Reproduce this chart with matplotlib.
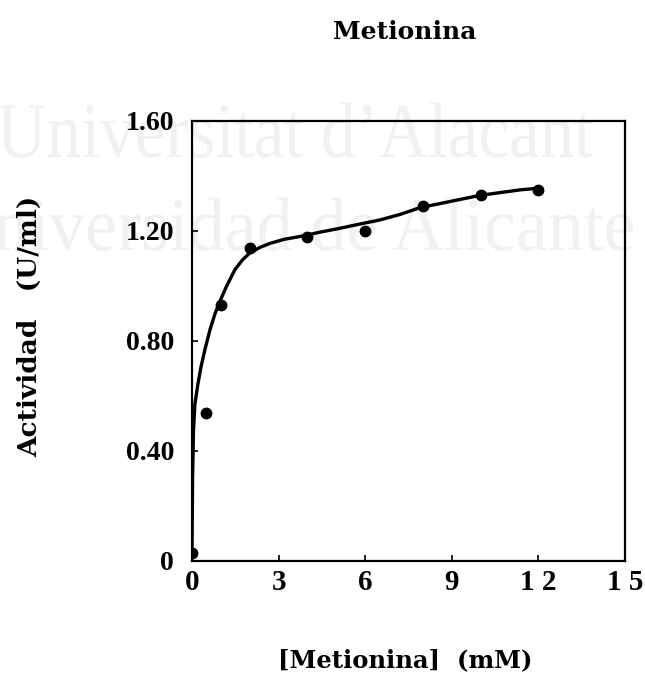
import matplotlib.pyplot as plt
from matplotlib.textpath import TextPath
from matplotlib.patches import PathPatch
from matplotlib.font_manager import FontProperties
from matplotlib.transforms import Affine2D, IdentityTransform

# measured activity vs methionine concentration
conc_mM = [0, 0.5, 1, 2, 4, 6, 8, 10, 12]
activity = [0.03, 0.54, 0.93, 1.14, 1.18, 1.20, 1.29, 1.33, 1.35]

# hand-drawn fit line
curve_x = [0.0, 0.02, 0.05, 0.10, 0.20, 0.30, 0.45, 0.62, 0.80, 0.97, 1.20,
           1.49, 1.75, 2.0, 2.35, 2.7, 3.2, 3.74, 4.4, 5.13, 5.8, 6.5, 7.2,
           7.9, 8.6, 9.3, 10.0, 10.7, 11.4, 11.95]
curve_y = [0.04, 0.30, 0.47, 0.57, 0.64, 0.70, 0.77, 0.84, 0.90, 0.945, 1.00,
           1.06, 1.095, 1.12, 1.14, 1.155, 1.17, 1.18, 1.195, 1.21, 1.225,
           1.24, 1.26, 1.285, 1.30, 1.315, 1.33, 1.34, 1.35, 1.355]

xticks = [0, 3, 6, 9, 12, 15]
xtick_labels = ["0", "3", "6", "9", "1 2", "1 5"]
yticks = [0, 0.4, 0.8, 1.2, 1.6]
ytick_labels = ["0", "0.40", "0.80", "1.20", "1.60"]

W, H = 645, 674
fig = plt.figure(figsize=(W / 100, H / 100), dpi=100)
fig.patch.set_facecolor("white")


def watermark(text, right, baseline, width, cap):
    # narrow serif lettering stretched to a given width / cap height (pixels)
    tp = TextPath((0, 0), text, size=100, prop=FontProperties(family="Liberation Serif"))
    ext = tp.get_extents()
    sx = width / ext.width
    sy = cap / 66.2
    tr = Affine2D().translate(-ext.x1, 0).scale(sx, sy).translate(right, H - baseline)
    patch = PathPatch(tr.transform_path(tp), facecolor="#f1f1f1", edgecolor="none",
                      transform=IdentityTransform(), zorder=0)
    fig.add_artist(patch)


watermark("Universitat d\u2019Alacant", 593, 157, 595, 52)
watermark("Universidad de Alicante", 633, 250, 690, 50)

ax = fig.add_axes([192 / W, 1 - 561 / H, 433 / W, 440 / H])
ax.set_zorder(2)
ax.patch.set_visible(False)

ax.plot(curve_x, curve_y, color="black", lw=2.4, solid_capstyle="round", zorder=3)
ax.plot(conc_mM, activity, "o", color="black", ms=7.5, zorder=4)

ax.set_xlim(0, 15)
ax.set_ylim(0, 1.6)
ax.set_xticks(xticks)
ax.set_yticks(yticks)

bold = dict(family="DejaVu Serif", fontweight="heavy")
digits = dict(family="Liberation Serif", fontweight="bold")
ax.set_xticklabels(xtick_labels, fontsize=21, **digits)
ax.set_yticklabels(ytick_labels, fontsize=20, **digits)
ax.tick_params(direction="in", length=4, width=1.2, pad=6)
ax.tick_params(axis="y", pad=13)
for s in ax.spines.values():
    s.set_linewidth(1.6)

fig.text(405 / W, 1 - 32 / H, "Metionina", ha="center", va="center", fontsize=18,
         zorder=3, **bold)
fig.text(405 / W, 1 - 660 / H, "[Metionina]  (mM)", ha="center", va="center",
         fontsize=17.5, zorder=3, **bold)
fig.text(30 / W, 1 - 326 / H, "Actividad   (U/ml)", ha="center", va="center",
         rotation=90, fontsize=19, zorder=3, **bold)

fig.savefig("out.png", dpi=100)
